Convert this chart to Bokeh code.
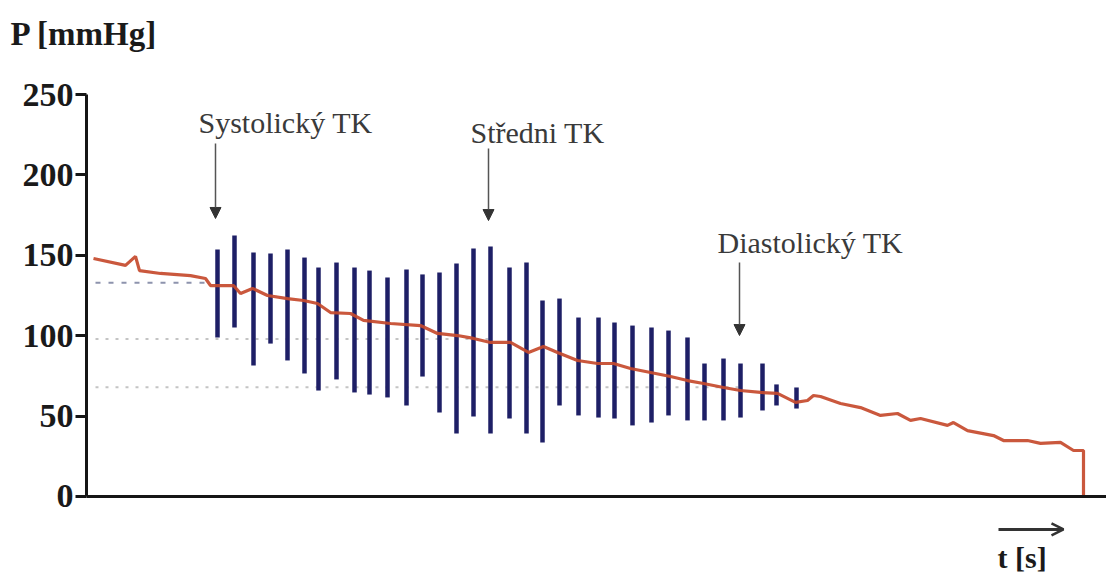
from bokeh.plotting import figure
from bokeh.models import Range1d, FixedTicker, Label, Arrow, NormalHead, OpenHead, LinearAxis
from bokeh.embed import file_html
from bokeh.resources import INLINE

# ---- data (time in s, pressure in mmHg) ----
cuff_t = [0.7, 3.9, 4.9, 5.3, 7.4, 10.4, 11.9, 12.4, 14.7, 15.4, 16.6, 18.1, 20.1, 21.7,
          23.1, 24.4, 26.4, 27.7, 30.4, 33.4, 35.1, 37.1, 38.7, 40.4, 42.4, 44.2, 45.7,
          47.1, 49.1, 51.1, 52.7, 54.4, 56.4, 58.4, 60.1, 61.7, 63.7, 65.4, 67.4, 69.1,
          70.9, 72.1, 72.7, 73.4, 75.4, 77.4, 79.4, 81.1, 82.4, 83.4, 86.1, 86.7, 88.1,
          90.7, 91.7, 94.1, 95.4, 97.4, 98.7, 99.7, 99.7]
cuff_p = [148.0, 143.7, 149.3, 140.5, 138.7, 137.4, 135.6, 131.2, 131.2, 126.2, 129.4,
          125.0, 123.1, 121.9, 120.0, 114.4, 113.8, 109.5, 107.6, 106.3, 101.4, 100.1,
          98.3, 95.8, 95.8, 89.6, 93.3, 89.6, 84.6, 82.7, 82.7, 79.6, 77.1, 74.6, 72.1,
          70.3, 67.8, 65.9, 64.7, 64.1, 58.5, 59.7, 62.8, 62.2, 57.8, 55.3, 50.4, 51.6,
          47.3, 48.5, 44.2, 46.0, 41.0, 37.9, 34.8, 34.8, 33.0, 33.6, 28.6, 28.6, 0.0]

osc_t = [13.1, 14.8, 16.7, 18.4, 20.1, 21.8, 23.2, 25.0, 26.8, 28.3, 30.1, 32.0, 33.6,
         35.3, 37.0, 38.7, 40.4, 42.3, 44.0, 45.6, 47.3, 49.2, 51.2, 52.8, 54.6, 56.5,
         58.2, 60.1, 61.8, 63.7, 65.4, 67.6, 69.0, 71.0]
osc_top = [153.6, 162.3, 151.7, 151.1, 153.6, 148.6, 142.4, 145.5, 142.4, 140.5, 136.2,
           141.2, 138.1, 139.3, 144.9, 154.2, 155.5, 142.4, 145.5, 121.9, 123.1, 111.3,
           111.3, 108.2, 106.3, 105.1, 103.2, 98.9, 82.7, 85.8, 82.7, 82.7, 69.7, 67.8]
osc_bottom = [98.9, 105.1, 81.5, 95.1, 84.6, 76.5, 65.9, 72.8, 64.7, 63.4, 61.6, 56.6,
              74.6, 52.2, 39.2, 49.8, 39.2, 48.5, 39.2, 33.6, 56.6, 50.4, 49.1, 48.5,
              44.2, 46.0, 50.4, 47.3, 47.3, 47.3, 49.1, 53.5, 56.6, 54.7]

level_names = ["Systolický TK", "Středni TK", "Diastolický TK"]
level_p = [133, 98, 68]
level_t_start = [0.9, 0.9, 0.9]
level_t_end = [12.4, 40.4, 65.4]

y_ticks = [0, 50, 100, 150, 200, 250]
y_label = "P [mmHg]"
x_label = "t [s]"

# annotation placement (data units)
ann_text_t = [11.2, 38.4, 63.1]
ann_text_p = [232.4, 226.1, 157.7]
ann_arrow_t = [12.9, 40.2, 65.3]
ann_arrow_from = [219.5, 216.4, 145.5]
ann_arrow_to = [172.9, 171.6, 100.1]

SERIF = "Liberation Serif"
INK = "#161616"

p = figure(width=1106, height=579, output_backend="svg", toolbar_location=None,
           x_range=Range1d(-8.6, 102.0), y_range=Range1d(-51.62, 308.46),
           x_axis_location=None, y_axis_location=None,
           min_border=0, min_border_left=0, min_border_right=0,
           min_border_top=0, min_border_bottom=0)
p.outline_line_color = None
p.background_fill_color = "white"
p.border_fill_color = "white"
p.grid.visible = False

# axes, crossing at the origin
yax = LinearAxis(fixed_location=0, bounds=(0, 250), ticker=FixedTicker(ticks=y_ticks))
yax.axis_line_width = 3
yax.axis_line_color = INK
yax.major_tick_line_width = 3
yax.major_tick_line_color = INK
yax.major_tick_out = 11
yax.major_tick_in = 0
yax.minor_tick_line_color = None
yax.major_label_text_font = SERIF
yax.major_label_text_font_style = "bold"
yax.major_label_text_font_size = "34px"
yax.major_label_text_color = "#1a1a1a"
yax.major_label_standoff = 2
p.add_layout(yax, "left")

xax = LinearAxis(fixed_location=0, bounds=(0, 102.0), ticker=FixedTicker(ticks=[]))
xax.axis_line_width = 3
xax.axis_line_color = INK
xax.major_tick_line_color = None
xax.minor_tick_line_color = None
xax.major_label_text_font_size = "0px"
p.add_layout(xax, "below")

# reference levels
p.segment(x0=level_t_start[0], y0=level_p[0], x1=level_t_end[0], y1=level_p[0],
          line_color="#8d93ad", line_width=2, line_dash="5 8")
for i in (1, 2):
    p.segment(x0=level_t_start[i], y0=level_p[i], x1=level_t_end[i], y1=level_p[i],
              line_color="#c4c4c4", line_width=2, line_dash="3 7")

# oscillations
p.segment(x0=osc_t, y0=osc_bottom, x1=osc_t, y1=osc_top,
          line_color="#1e1f66", line_width=4.5)

# cuff pressure
p.line(cuff_t, cuff_p, line_color="#c64a2c", line_width=3.2, line_alpha=0.92)

# annotations
for name, tx, ty, ax, a0, a1 in zip(level_names, ann_text_t, ann_text_p,
                                     ann_arrow_t, ann_arrow_from, ann_arrow_to):
    p.add_layout(Label(x=tx, y=ty, text=name, text_font=SERIF, text_font_size="30px",
                       text_color="#3a3a3a", text_baseline="alphabetic"))
    p.add_layout(Arrow(x_start=ax, y_start=a0, x_end=ax, y_end=a1,
                       line_color="#555555", line_width=1.5,
                       end=NormalHead(size=11, fill_color="#333333", line_color="#333333")))

# axis titles
p.add_layout(Label(x=-7.6, y=287.7, text=y_label,
                   text_font=SERIF, text_font_style="bold", text_font_size="33px",
                   text_color="#1a1a1a", text_baseline="alphabetic"))
p.add_layout(Label(x=91.1, y=-38.0, text=x_label,
                   text_font=SERIF, text_font_style="bold", text_font_size="30px",
                   text_color="#1a1a1a", text_baseline="alphabetic"))
p.add_layout(Arrow(x_start=91.2, y_start=-20.5, x_end=97.7, y_end=-20.5,
                   line_color="#333333", line_width=3,
                   end=OpenHead(size=12, line_color="#333333", line_width=2.5)))

open("out.html", "w").write(file_html(p, INLINE))
